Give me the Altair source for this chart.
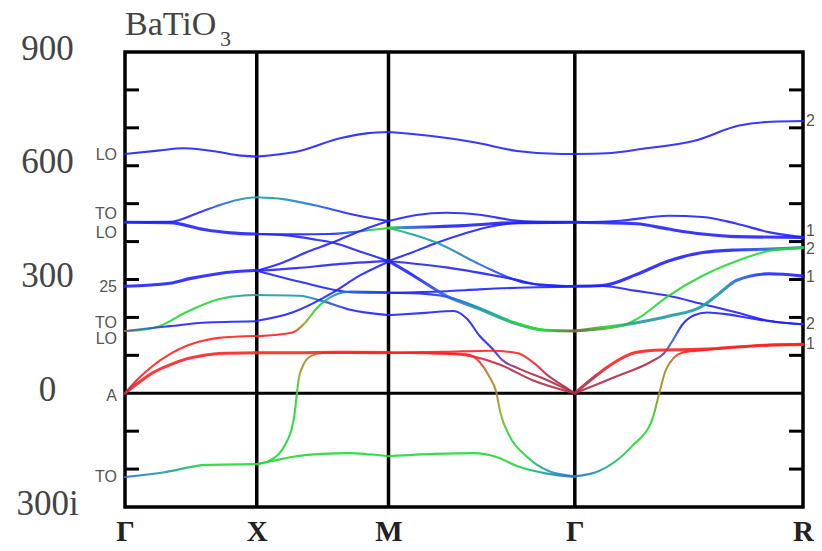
import altair as alt
import pandas as pd

# ---- k-path (units of 2*pi/a) ----
SEG_START = [0.0, 0.5, 1.0, 1.7071]
SEG_LEN = [0.5, 0.5, 0.7071, 0.8660]
KPOINT_POS = [0.0, 0.5, 1.0, 1.7071, 2.5731]
KPOINT_LABELS = ["Γ", "X", "M", "Γ", "R"]

# ---- frequency axis (cm^-1, negative = imaginary) ----
Y_LABEL_VALUES = [900, 600, 300, 0, -300]
TICK_VALUES = [-200, -100, 100, 200, 300, 400, 500, 600, 700, 800]

LEFT_MODE_LABELS = ["LO", "TO", "LO", "25", "TO", "LO", "A", "TO"]
LEFT_MODE_FREQ = [629, 472, 422, 280, 185, 142, -8, -222]
R_MODE_LABELS = ["25", "15", "25", "12", "25", "15"]
R_MODE_FREQ = [718, 427, 380, 306, 182, 129]

# character code -> colour (R = Ba, G = Ti, B = O and their mixtures)
PALETTE = {
    "B": "#2222ff", "C": "#2a6ad8", "T": "#1e9aa8", "G": "#22d834",
    "Y": "#8cb024", "O": "#a88a22", "R": "#ff2222", "D": "#b02c48",
    "P": "#7434b4", "N": "#7a6a48",
}

# each band piece: (degeneracy, fractional position along segment, frequency, character codes)
GX_BANDS = [
    (1, [0, 0.25, 0.45, 0.7, 0.85, 1], [631, 640, 646, 637, 628, 624], "BBBBBB"),
    (1, [0, 0.34, 0.55, 0.75, 0.9, 1], [451, 452, 475, 500, 513, 517], "BBBCTT"),
    (2, [0, 0.34, 0.6, 0.8, 1], [451, 450, 432, 423, 420], "BBBBB"),
    (2, [0, 0.34, 0.5, 0.68, 0.85, 1], [282, 290, 303, 314, 321, 324], "BBBBBB"),
    (1, [0, 0.15, 0.26, 0.46, 0.71, 0.9, 1], [164, 168, 177, 213, 248, 258, 259], "NGGGGTT"),
    (1, [0, 0.15, 0.34, 0.59, 1], [164, 170, 177, 186, 190], "NCBBB"),
    (1, [0, 0.1, 0.21, 0.35, 0.46, 0.6, 0.71, 1], [0, 38, 72, 105, 124, 139, 146, 151], "DRRRRRRR"),
    (2, [0, 0.1, 0.21, 0.35, 0.46, 0.6, 0.71, 1], [0, 27, 54, 76, 90, 100, 105, 107], "DRRRRRRR"),
    (1, [0, 0.29, 0.62, 1], [-221, -209, -189, -187], "CTGG"),
]
XM_BANDS = [
    (1, [0, 0.3, 0.64, 0.85, 1], [624, 637, 673, 686, 689], "BBBBB"),
    (1, [0, 0.2, 0.45, 0.71, 1], [517, 512, 495, 473, 454], "TTCBB"),
    (1, [0, 0.3, 0.55, 0.75, 0.9, 1], [420, 419, 420, 426, 432, 436], "BBBCGG"),
    (1, [0, 0.2, 0.45, 0.58, 0.8, 1], [420, 417, 405, 397, 372, 349], "BBBBBB"),
    (1, [0, 0.2, 0.4, 0.58, 0.8, 1], [323, 345, 375, 398, 430, 454], "BBBBBB"),
    (1, [0, 0.3, 0.6, 1], [323, 330, 340, 349], "BBBB"),
    (1, [0, 0.35, 0.74, 1], [323, 292, 266, 265], "BBBB"),
    (1, [0, 0.32, 0.5, 0.71, 1], [259, 257, 243, 220, 206], "TTCBB"),
    (1, [0, 0.27, 0.58, 0.78, 1], [191, 213, 266, 310, 347], "BBBBB"),
    (1, [0, 0.27, 0.37, 0.45, 0.58, 0.71, 1], [150, 160, 187, 222, 257, 268, 266], "RRYGTCB"),
    (2, [0, 0.3, 0.6, 1], [107, 107, 108, 107], "RRRR"),
    (1, [0, 0.09, 0.23, 0.285, 0.305, 0.32, 0.35, 0.41, 0.5, 0.7, 1],
        [-187, -179, -126, -60, 0, 40, 72, 98, 106, 107, 107], "GGGGGYOORRR"),
    (1, [0, 0.1, 0.3, 0.5, 0.7, 0.85, 1], [-187, -180, -166, -160, -158, -161, -166], "GGGGGGG"),
]
MG_BANDS = [
    (1, [0, 0.22, 0.46, 0.69, 0.93, 1], [689, 679, 662, 639, 631, 631], "BBBBBB"),
    (1, [0, 0.15, 0.31, 0.5, 0.67, 0.8, 1], [454, 470, 476, 470, 456, 452, 451], "BBBBBBB"),
    (2, [0, 0.1, 0.25, 0.4, 0.55, 0.7, 1], [436, 437, 439, 442, 447, 450, 451], "GCBBBBB"),
    (1, [0, 0.13, 0.26, 0.4, 0.55, 0.7, 1], [349, 372, 397, 420, 440, 449, 451], "BBBBBBB"),
    (1, [0, 0.135, 0.26, 0.49, 0.75, 1], [436, 418, 397, 340, 290, 282], "GTTCBB"),
    (1, [0, 0.31, 0.67, 0.84, 1], [349, 332, 301, 284, 282], "BBBBB"),
    (1, [0, 0.31, 0.49, 0.75, 1], [265, 269, 274, 279, 281], "BBBBB"),
    (2, [0, 0.135, 0.31, 0.49, 0.67, 0.84, 1], [349, 310, 257, 222, 186, 166, 164], "BBCTTGN"),
    (1, [0, 0.2, 0.35, 0.49, 0.67, 0.84, 1], [265, 262, 250, 225, 188, 167, 164], "BBCTGGN"),
    (1, [0, 0.2, 0.35, 0.42, 0.49, 0.56, 0.61, 0.7, 0.85, 1],
        [206, 212, 217, 197, 151, 116, 88, 65, 35, 0], "BBBBBBPDDD"),
    (1, [0, 0.3, 0.55, 0.69, 0.78, 0.86, 0.93, 1], [107, 109, 112, 106, 80, 45, 22, 0], "RRRRRDDD"),
    (1, [0, 0.25, 0.42, 0.6, 0.77, 1], [107, 105, 100, 75, 35, 0], "RRRDDD"),
    (1, [0, 0.2, 0.42, 0.49, 0.54, 0.58, 0.6, 0.65, 0.74, 0.86, 1],
        [107, 106, 103, 82, 45, 0, -50, -113, -166, -205, -219], "RRRROOYGGTC"),
    (1, [0, 0.25, 0.46, 0.58, 0.69, 0.85, 1], [-166, -160, -158, -168, -192, -212, -221], "GGGGGTC"),
]
GR_BANDS = [
    (1, [0, 0.14, 0.3, 0.52, 0.72, 0.86, 1], [631, 633, 645, 665, 706, 716, 718], "BBBBBBB"),
    (1, [0, 0.2, 0.41, 0.56, 0.71, 0.85, 1], [451, 455, 468, 465, 447, 425, 411], "BBBBBBB"),
    (2, [0, 0.27, 0.41, 0.56, 0.71, 1], [451, 447, 433, 420, 413, 411], "BBBBBB"),
    (2, [0, 0.12, 0.27, 0.41, 0.56, 0.71, 0.85, 1], [282, 284, 313, 349, 371, 378, 380, 384], "BBBBBBCT"),
    (1, [0, 0.12, 0.27, 0.41, 0.56, 0.71, 0.85, 1], [282, 283, 270, 257, 235, 213, 191, 182], "BBBBBBBB"),
    (1, [0, 0.2, 0.27, 0.41, 0.56, 0.71, 0.85, 1], [164, 177, 195, 257, 310, 349, 375, 384], "NYGGGGGG"),
    (2, [0, 0.15, 0.27, 0.41, 0.56, 0.63, 0.71, 0.85, 1],
        [164, 175, 186, 203, 230, 262, 298, 315, 309], "NGTTTTCBB"),
    (1, [0, 0.19, 0.34, 0.39, 0.43, 0.47, 0.52, 0.58, 0.67, 0.75, 0.88, 1],
        [0, 46, 85, 105, 140, 180, 205, 213, 208, 200, 188, 182], "DDDPCBBBBBBB"),
    (2, [0, 0.08, 0.15, 0.27, 0.38, 0.5, 0.6, 0.71, 0.85, 1],
        [0, 40, 72, 108, 114, 115, 117, 122, 127, 129], "DDRRRRRRRR"),
    (1, [0, 0.106, 0.25, 0.34, 0.37, 0.4, 0.47, 0.55, 0.71, 0.85, 1],
        [-219, -205, -140, -68, 0, 63, 107, 113, 122, 127, 129], "CTGGOORRRRR"),
]
ALL_BANDS = [GX_BANDS, XM_BANDS, MG_BANDS, GR_BANDS]

W, H = 678, 455
x_scale = alt.Scale(domain=[KPOINT_POS[0], KPOINT_POS[-1]], nice=False, zero=False)
y_scale = alt.Scale(domain=[-300, 900], nice=False, zero=False)

# x-axis label expression built from the k-point lists
expr = ""
for i, lab in enumerate(KPOINT_LABELS[:-1]):
    mid = (KPOINT_POS[i] + KPOINT_POS[i + 1]) / 2
    expr += f"datum.value < {mid:.4f} ? '{lab}' : "
expr += f"'{KPOINT_LABELS[-1]}'"

x_axis = alt.Axis(values=KPOINT_POS, labelExpr=expr, ticks=False, domain=False, grid=False,
                  labelFont="Liberation Serif", labelFontSize=29, labelFontWeight="bold",
                  labelColor="#222", labelPadding=10, labelFlush=False, labelOverlap=False,
                  labelBound=False, title=None)
y_axis = alt.Axis(values=Y_LABEL_VALUES,
                  labelExpr="datum.value < 0 ? (-datum.value) + 'i' : '' + datum.value",
                  ticks=False, domain=False, grid=False,
                  labelFont="Liberation Serif", labelFontSize=35, labelColor="#444",
                  labelAlign="center", labelBaseline="middle", labelPadding=78,
                  labelFlush=False, labelOverlap=False, labelOffset=-4, title=None)


def X(field="k:Q"):
    return alt.X(field, scale=x_scale, axis=x_axis)


def Y(field="f:Q"):
    return alt.Y(field, scale=y_scale, axis=y_axis)


layers = []

# symmetry-point vertical lines
layers.append(
    alt.Chart(pd.DataFrame({"k": KPOINT_POS[1:-1]})).mark_rule(color="black", strokeWidth=3.5)
    .encode(x=X())
)
# zero line
layers.append(
    alt.Chart(pd.DataFrame({"f": [0]})).mark_rule(color="black", strokeWidth=3)
    .encode(y=Y())
)
# inward ticks, left and right frame
ticks_df = pd.DataFrame({"f": TICK_VALUES})
layers.append(
    alt.Chart(ticks_df).mark_rule(color="black", strokeWidth=3)
    .encode(y=Y(), x=alt.value(0), x2=alt.value(14))
)
layers.append(
    alt.Chart(ticks_df).mark_rule(color="black", strokeWidth=3)
    .encode(y=Y(), x=alt.value(W - 14), x2=alt.value(W))
)

# phonon bands
for seg, bands in enumerate(ALL_BANDS):
    for deg, ts, fs, codes in bands:
        ks = [SEG_START[seg] + t * SEG_LEN[seg] for t in ts]
        df = pd.DataFrame({"k": ks, "f": fs})
        cols = [PALETTE[c] for c in codes]
        if len(set(cols)) == 1:
            stroke = cols[0]
        else:
            stroke = alt.LinearGradient(
                gradient="linear",
                stops=[alt.GradientStop(offset=float(t), color=c) for t, c in zip(ts, cols)],
                x1=0, x2=1, y1=0, y2=0,
            )
        layers.append(
            alt.Chart(df).mark_line(interpolate="monotone", stroke=stroke,
                                    strokeWidth=2.1 if deg == 1 else 3.1,
                                    strokeOpacity=0.9, strokeCap="round")
            .encode(x=X(), y=Y())
        )

# mode labels at Γ (left) and R (right, cut by the picture edge as in the original)
layers.append(
    alt.Chart(pd.DataFrame({"f": LEFT_MODE_FREQ, "s": LEFT_MODE_LABELS}))
    .mark_text(align="right", baseline="middle", font="Liberation Sans", fontSize=16, color="#555")
    .encode(y=Y(), text="s:N", x=alt.value(-8))
)
layers.append(
    alt.Chart(pd.DataFrame({"f": R_MODE_FREQ, "s": R_MODE_LABELS}))
    .mark_text(align="left", baseline="middle", font="Liberation Sans", fontSize=16, color="#555")
    .encode(y=Y(), text="s:N", x=alt.value(W + 3))
)

# title BaTiO3
layers.append(
    alt.Chart(pd.DataFrame({"s": ["BaTiO"]}))
    .mark_text(align="left", baseline="alphabetic", font="Liberation Serif", fontSize=34, color="#444")
    .encode(text="s:N", x=alt.value(0), y=alt.value(-17))
)
layers.append(
    alt.Chart(pd.DataFrame({"s": ["3"]}))
    .mark_text(align="left", baseline="alphabetic", font="Liberation Serif", fontSize=22, color="#444")
    .encode(text="s:N", x=alt.value(95), y=alt.value(-6))
)

chart = (
    alt.layer(*layers)
    .properties(width=W, height=H,
                autosize=alt.AutoSizeParams(type="none"),
                padding={"left": 117, "top": 44, "right": 11, "bottom": 36})
    .configure_view(stroke="black", strokeWidth=3.5)
)

chart.save("out.html", embed_options={"renderer": "svg", "actions": False})
